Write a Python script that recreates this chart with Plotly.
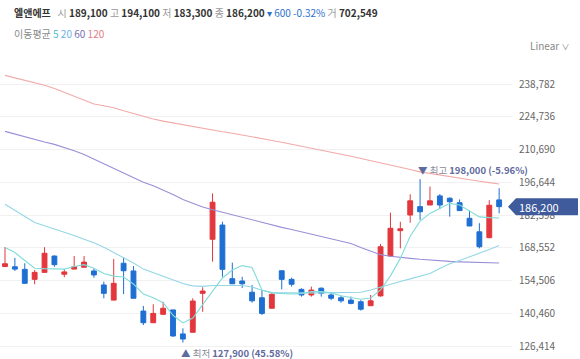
import plotly.graph_objects as go

# ---------------- data ----------------
idx = list(range(51))
opens = [160500, 160400, 159300, 155000, 158000, 165000, 157200, 159400, 160200, 158600,
         152600, 146100, 161900, 158600, 141400, 136400, 140000, 141900, 131600, 132300,
         149000, 172200, 178300, 155300, 154300, 149500, 147100, 142600, 158700, 155000,
         150700, 148300, 151200, 148300, 147100, 146100, 145400, 143700, 147900, 165000,
         175900, 182600, 186200, 186900, 190800, 189800, 187900, 181200, 175400, 172900,
         189100]
highs = [168900, 164200, 161900, 159000, 168800, 165300, 159300, 165000, 165000, 159700,
         154000, 163700, 164500, 160700, 143600, 144300, 145400, 141900, 134000, 146900,
         151600, 191900, 179700, 162200, 156100, 152600, 150400, 149300, 158700, 155700,
         151200, 151900, 151600, 149300, 147900, 147600, 146100, 148300, 170200, 183600,
         179700, 191500, 198000, 194800, 191600, 190200, 189300, 184500, 179100, 189000,
         194100]
lows = [160300, 158600, 153200, 152900, 158000, 160400, 155900, 159400, 160200, 155700,
        146900, 146100, 148700, 146900, 135400, 136400, 140000, 130400, 127900, 132300,
        141100, 162600, 156100, 153100, 151300, 145000, 139700, 142600, 150700, 151900,
        147600, 147600, 147600, 146100, 145000, 144300, 141600, 143700, 147600, 165000,
        168300, 179300, 180500, 186900, 185100, 181900, 184500, 177900, 168300, 172600,
        183300]
closes = [161700, 159400, 153300, 158000, 166200, 161300, 158200, 160400, 162400, 156900,
          149000, 153300, 158700, 146900, 136400, 140400, 142600, 130700, 129400, 145700,
          150000, 188100, 159300, 153100, 153100, 145800, 140400, 148600, 155000, 152900,
          148300, 150400, 149000, 146900, 145800, 144700, 142200, 145800, 169000, 176900,
          176700, 188700, 184000, 188700, 186900, 188300, 184500, 177900, 169000, 186800,
          186200]

ma5 = [168700, 166500, 163100, 159800, 159600, 159600, 159400, 160500, 161300, 159800,
       157500, 156400, 156000, 153000, 148700, 147100, 145000, 139600, 136300, 138400,
       144000, 150000, 155600, 159000, 160900, 160100, 150400, 149200, 148800, 148700,
       148900, 149800, 149800, 149200, 148000, 147200, 146500, 147000, 150500, 156500,
       164000, 173500, 180000, 183300, 185500, 187600, 186900, 184300, 181800, 181500,
       181300]
ma20 = [187200, 184500, 181800, 179400, 178000, 176700, 175300, 173800, 172200, 170700,
        168800, 166600, 164300, 162000, 159400, 157800, 156200, 154900, 153200, 152200,
        152000, 152400, 152500, 152400, 152400, 151700, 150300, 149300, 149200, 149200,
        149200, 149200, 149200, 149200, 149200, 149300, 149500, 150400, 151700, 152900,
        154100, 155200, 156400, 157500, 159700, 161700, 163100, 164600, 166100, 167800,
        169500]
ma60 = [218500, 217300, 216100, 215000, 213900, 212900, 211600, 210200, 208600, 206600,
        204500, 202500, 200400, 198500, 196700, 195200, 193400, 191400, 189300, 187500,
        186000, 184900, 183800, 182700, 181500, 180400, 179300, 178200, 177300, 176400,
        175400, 174500, 173500, 172600, 171600, 170400, 168700, 167000, 165600, 164900,
        164300, 164000, 163600, 163200, 163000, 162700, 162500, 162300, 162200, 162100,
        162000]
ma120 = [242500, 241500, 240400, 239300, 238300, 236900, 235200, 233400, 231600, 230200,
         229500, 228600, 227300, 226100, 225000, 223800, 222900, 222100, 221300, 220400,
         219600, 219000, 218300, 217700, 217000, 216300, 215500, 214600, 213800, 213000,
         212100, 211300, 210400, 209600, 208700, 207800, 206900, 206000, 205100, 204100,
         203200, 202100, 201100, 200400, 199600, 198900, 198300, 197700, 197100, 196500,
         195900]

tick_vals = [126414, 140460, 154506, 168552, 182598, 196644, 210690, 224736, 238782]

max_idx, max_val, max_pct = 42, 198000, "-5.96%"
min_idx, min_val, min_pct = 18, 127900, "45.58%"

# ---------------- style ----------------
FONT = "Noto Sans CJK KR"
UP = "#e2373c"
DOWN = "#1f6fd3"
UNITS_PER_PX = 429.0  # for label geometry only

fig = go.Figure()

for vals, col in [(ma120, "#f2aaa8"), (ma60, "#9890d6"), (ma20, "#93d7e6"), (ma5, "#7fdcd8")]:
    fig.add_trace(go.Scatter(x=idx, y=vals, mode="lines",
                             line=dict(color=col, width=1.1), hoverinfo="skip"))

fig.add_trace(go.Candlestick(
    x=idx, open=opens, high=highs, low=lows, close=closes,
    increasing=dict(line=dict(color=UP, width=1), fillcolor=UP),
    decreasing=dict(line=dict(color=DOWN, width=1), fillcolor=DOWN),
    whiskerwidth=0,
))

# header
hdr = ("<b>엘앤에프</b>   <span style='color:#9a9a9a'>시</span> <b>189,100</b> "
       "<span style='color:#9a9a9a'>고</span> <b>194,100</b> "
       "<span style='color:#9a9a9a'>저</span> <b>183,300</b> "
       "<span style='color:#9a9a9a'>종</span> <b>186,200</b> "
       "<span style='color:#2f6fd0'>▾ 600 -0.32%</span> "
       "<span style='color:#9a9a9a'>거</span> <b>702,549</b>")
fig.add_annotation(text=hdr, xref="paper", yref="paper", x=12 / 512, y=1,
                   yshift=48, xanchor="left", yanchor="middle", showarrow=False,
                   font=dict(family=FONT, size=10, color="#333333"))
ma_txt = ("이동평균 <span style='color:#49bfc6'>5</span> <span style='color:#6cb0e2'>20</span> "
          "<span style='color:#7a6db8'>60</span> <span style='color:#e07c86'>120</span>")
fig.add_annotation(text=ma_txt, xref="paper", yref="paper", x=12 / 512, y=1,
                   yshift=27, xanchor="left", yanchor="middle", showarrow=False,
                   font=dict(family=FONT, size=10, color="#8a8a8a"))
fig.add_annotation(text="Linear <span style='font-size:8px'>∨</span>", xref="paper", yref="paper",
                   x=1, y=1, xshift=16, yshift=15, xanchor="left", yanchor="middle",
                   showarrow=False, font=dict(family=FONT, size=10, color="#888888"))

# max / min markers
fig.add_annotation(text=f"▼ <span style='color:#8a8a9a'>최고</span> <b>{max_val:,} ({max_pct})</b>",
                   x=max_idx, y=max_val, xanchor="left", yanchor="bottom", xshift=-4,
                   showarrow=False, font=dict(family=FONT, size=9.5, color="#5f6b9e"))
fig.add_annotation(text=f"▲ <span style='color:#8a8a9a'>최저</span> <b>{min_val:,} ({min_pct})</b>",
                   x=min_idx, y=min_val, xanchor="left", yanchor="top", xshift=-4, yshift=-1,
                   showarrow=False, font=dict(family=FONT, size=9.5, color="#5f6b9e"))

# last price tag
last = closes[-1]
h = 8.5 * UNITS_PER_PX
fig.add_shape(type="path", xref="paper", yref="y",
              path=(f"M {508/512},{last} L {516/512},{last + h} L {578/512},{last + h} "
                    f"L {578/512},{last - h} L {516/512},{last - h} Z"),
              fillcolor="#3f5b9c", line=dict(width=0), layer="above")
fig.add_annotation(text=f"{last:,}", xref="paper", yref="y", x=1, y=last, xshift=5,
                   xanchor="left", yanchor="middle", showarrow=False,
                   font=dict(family=FONT, size=11, color="white"))

fig.update_layout(
    width=580, height=359,
    margin=dict(l=0, r=68, t=60, b=0),
    paper_bgcolor="white", plot_bgcolor="white",
    showlegend=False,
    xaxis=dict(range=[-0.506, 51.3], showgrid=False, showticklabels=False, zeroline=False,
               rangeslider=dict(visible=False), fixedrange=True),
    yaxis=dict(side="right", range=[120837, 249108], tickvals=tick_vals, tickformat=",",
               showgrid=True, gridcolor="#f1f1f1", gridwidth=1, zeroline=False,
               ticks="", ticklabelstandoff=6, fixedrange=True,
               tickfont=dict(family=FONT, size=10, color="#666666")),
)

fig.write_html("out.html", config={"displayModeBar": False},
               post_script="document.body.style.margin='0';")
